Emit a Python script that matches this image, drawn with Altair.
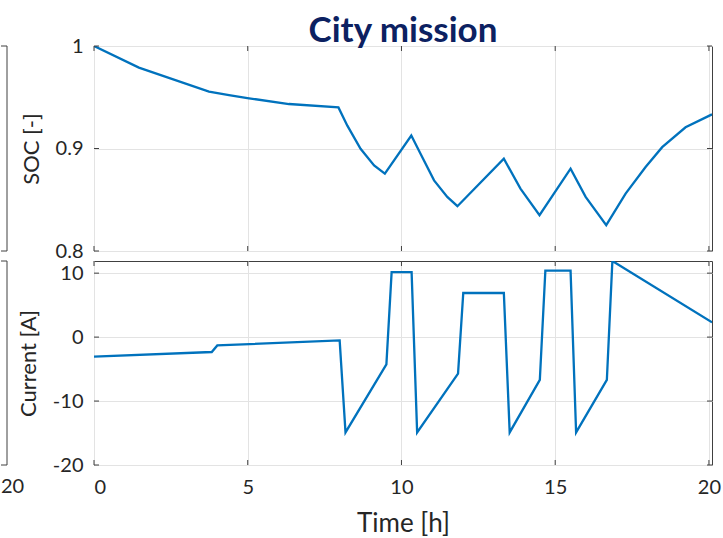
import altair as alt
import pandas as pd

# State of charge over the mission
soc_t = [0.0, 1.46, 3.74, 4.39, 4.99, 6.34, 7.95, 8.24, 8.67, 9.11, 9.46,
         10.32, 10.62, 11.06, 11.49, 11.82, 13.33, 13.87, 14.49, 15.50,
         15.99, 16.66, 17.29, 17.94, 18.48, 19.24, 20.1]
soc_v = [1.0, 0.9789, 0.9556, 0.9521, 0.9492, 0.9434, 0.9401, 0.9223, 0.8997,
         0.8835, 0.8754, 0.9126, 0.8948, 0.8689, 0.8528, 0.8437, 0.8900,
         0.8609, 0.8350, 0.8803, 0.8528, 0.8252, 0.8560, 0.8819, 0.9013,
         0.9207, 0.9333]

# Battery current over the mission
cur_t = [0.0, 3.83, 4.01, 7.99, 8.18, 9.51, 9.68, 10.33, 10.51, 11.84, 12.01,
         13.33, 13.52, 14.50, 14.68, 15.50, 15.68, 16.68, 16.86, 20.1]
cur_v = [-3.06, -2.33, -1.3, -0.52, -14.9, -4.25, 10.16, 10.16, -14.9, -5.7,
         6.9, 6.9, -14.9, -6.7, 10.4, 10.4, -14.9, -6.7, 11.9, 2.3]

x_ticks = [0, 5, 10, 15, 20]
x_domain = [0, 20.1]
soc_ticks = [0.8, 0.9, 1.0]
soc_domain = [0.8, 1.0]
cur_ticks = [-20, -10, 0, 10]
cur_domain = [-20, 11.9]

W = 618
H_TOP = 205
H_BOT = 204
TICK_LEN = 5
LINE_COLOR = "#0072BD"
FRAME_COLOR = "#404040"
TEXT_COLOR = "#262626"
FONT = "Lato"

soc_df = pd.DataFrame({"t": soc_t, "v": soc_v})
cur_df = pd.DataFrame({"t": cur_t, "v": cur_v})
xt_df = pd.DataFrame({"t": x_ticks})


def panel(df, y_ticks, y_domain, y_title, h, bottom):
    xs = alt.Scale(domain=x_domain, nice=False, zero=False)
    ys = alt.Scale(domain=y_domain, nice=False, zero=False)
    if bottom:
        x_axis = alt.Axis(values=x_ticks, grid=True, ticks=False, domain=False,
                          labelPadding=12, title="Time [h]", titleFontSize=26,
                          titlePadding=13)
    else:
        x_axis = alt.Axis(values=x_ticks, grid=True, ticks=False, domain=False,
                          labels=False, title=None)
    y_axis = alt.Axis(values=y_ticks, grid=True, ticks=False, domain=False,
                      labelPadding=11, title=y_title, titlePadding=12,
                      labelExpr="'' + datum.value")
    X = alt.X("t:Q", scale=xs, axis=x_axis)
    Y = alt.Y("v:Q", scale=ys, axis=y_axis)

    line = alt.Chart(df).mark_line(color=LINE_COLOR, strokeWidth=2.3, clip=True).encode(
        x=X, y=Y)

    # inward tick marks on all four sides of the box
    xt_top = alt.Chart(xt_df).mark_rule(color=FRAME_COLOR, strokeWidth=1).encode(
        x=X, y=alt.value(0), y2=alt.value(TICK_LEN))
    xt_bot = alt.Chart(xt_df).mark_rule(color=FRAME_COLOR, strokeWidth=1).encode(
        x=X, y=alt.value(h), y2=alt.value(h - TICK_LEN))
    yt_df = pd.DataFrame({"v": y_ticks})
    yt_left = alt.Chart(yt_df).mark_rule(color=FRAME_COLOR, strokeWidth=1).encode(
        y=Y, x=alt.value(0), x2=alt.value(TICK_LEN))
    yt_right = alt.Chart(yt_df).mark_rule(color=FRAME_COLOR, strokeWidth=1).encode(
        y=Y, x=alt.value(W), x2=alt.value(W - TICK_LEN))

    # right edge of the neighbouring panel
    one = pd.DataFrame({"k": [0]})
    nb_edge = alt.Chart(one).mark_rule(color=FRAME_COLOR, strokeWidth=1).encode(
        x=alt.value(-87), y=alt.value(0), y2=alt.value(h))
    nb_top = alt.Chart(one).mark_rule(color=FRAME_COLOR, strokeWidth=1).encode(
        x=alt.value(-93), x2=alt.value(-87), y=alt.value(0))
    nb_bot = alt.Chart(one).mark_rule(color=FRAME_COLOR, strokeWidth=1).encode(
        x=alt.value(-93), x2=alt.value(-87), y=alt.value(h))
    layers = [line, xt_top, xt_bot, yt_left, yt_right, nb_edge, nb_top, nb_bot]
    if bottom:
        nb_label = alt.Chart(pd.DataFrame({"lab": ["20"]})).mark_text(
            font=FONT, fontSize=20, color=TEXT_COLOR, align="left", baseline="top"
        ).encode(x=alt.value(-93), y=alt.value(h + 12), text="lab:N")
        layers.append(nb_label)
    return alt.layer(*layers).properties(width=W, height=h)


top = panel(soc_df, soc_ticks, soc_domain, "SOC [-]", H_TOP, False).properties(
    title=alt.TitleParams("City mission", font=FONT, fontSize=35, fontWeight="bold",
                          color="#0c2161", anchor="middle", frame="group", offset=-13)
)
bot = panel(cur_df, cur_ticks, cur_domain, "Current [A]", H_BOT, True)

chart = alt.vconcat(top, bot, spacing=10, bounds="flush").properties(
    padding={"left": 0, "top": 13, "right": 0, "bottom": 0}
).configure_view(
    stroke=FRAME_COLOR, strokeWidth=1
).configure_axis(
    labelFont=FONT, labelFontSize=20, labelColor=TEXT_COLOR,
    titleFont=FONT, titleFontSize=22, titleColor=TEXT_COLOR,
    titleFontWeight="normal", gridColor="#e3e3e3", gridWidth=1
)

chart.save("out.html", embed_options={"renderer": "svg", "actions": False})
